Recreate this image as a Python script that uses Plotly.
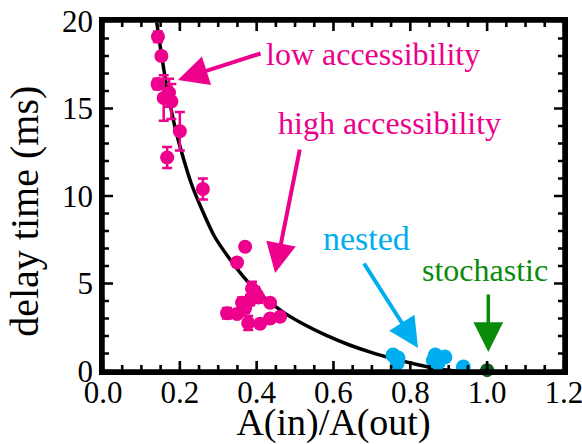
import plotly.graph_objects as go

# ---- data ----
low_x = [0.143, 0.152, 0.142, 0.158, 0.172, 0.178, 0.200, 0.167, 0.260]
low_y = [19.1, 18.0, 16.4, 15.6, 15.9, 15.4, 13.7, 12.2, 10.4]
low_err = [0.3, 0.2, 0.3, 1.3, 0.8, 1.0, 1.1, 0.6, 0.6]

high_x = [0.370, 0.349, 0.388, 0.396, 0.383, 0.404, 0.435, 0.323, 0.349, 0.370,
          0.378, 0.409, 0.435, 0.461, 0.362]
high_y = [7.1, 6.2, 4.7, 4.5, 4.06, 4.2, 3.9, 3.3, 3.26, 3.6,
          2.74, 2.7, 3.0, 3.1, 3.9]
high_err = [0.2, 0.2, 0.4, 0.3, 0.3, 0.3, 0.2, 0.3, 0.2, 0.3,
            0.4, 0.2, 0.2, 0.2, 0.3]

nested_x = [0.755, 0.768, 0.766, 0.865, 0.890, 0.872, 0.860, 0.938]
nested_y = [0.91, 0.74, 0.46, 0.91, 0.80, 0.46, 0.60, 0.23]

stoch_x = [1.0]
stoch_y = [0.05]

# fit curve, points
curve_x = [0.140, 0.150, 0.160, 0.175, 0.190, 0.210, 0.230, 0.260, 0.290, 0.330,
           0.375, 0.420, 0.470, 0.520, 0.580, 0.640, 0.700, 0.760, 0.820, 0.880, 0.920]
curve_y = [19.9, 18.4, 17.0, 15.2, 13.7, 12.1, 10.7, 9.1, 7.7, 6.4,
           5.15, 4.2, 3.35, 2.7, 2.05, 1.5, 1.05, 0.68, 0.36, 0.08, 0.0]

# axis ranges and tick positions
X_MAX = 1.2
Y_MAX = 20
x_major = [0.0, 0.2, 0.4, 0.6, 0.8, 1.0, 1.2]
x_minor = [round(i * 0.05, 2) for i in range(25) if i % 4 != 0]
y_major = [0, 5, 10, 15, 20]
y_minor = [i for i in range(1, 20) if i % 5 != 0]

PINK = "#EC008C"
CYAN = "#00AEEF"
GREEN = "#0A8A0A"
DKGREEN = "#0B5E1E"
FONT = "Liberation Serif"

# plot-area size in px (from the margins below), used to express tick sizes
ML, MR, MT, MB = 103, 18, 21, 73
PLOT_W = 582 - ML - MR
PLOT_H = 444 - MT - MB
XPX = X_MAX / PLOT_W   # data units per px on x
YPX = Y_MAX / PLOT_H   # data units per px on y

fig = go.Figure()

fig.add_trace(go.Scatter(x=curve_x, y=curve_y, mode="lines",
                         line=dict(color="black", width=3.5, shape="spline", smoothing=0.6),
                         hoverinfo="skip"))

fig.add_trace(go.Scatter(x=low_x, y=low_y, mode="markers",
                         marker=dict(color=PINK, size=14),
                         error_y=dict(type="data", array=low_err, color=PINK,
                                      thickness=2.5, width=5)))
fig.add_trace(go.Scatter(x=high_x, y=high_y, mode="markers",
                         marker=dict(color=PINK, size=14),
                         error_y=dict(type="data", array=high_err, color=PINK,
                                      thickness=2.5, width=5)))
fig.add_trace(go.Scatter(x=nested_x, y=nested_y, mode="markers",
                         marker=dict(color=CYAN, size=15)))
fig.add_trace(go.Scatter(x=stoch_x, y=stoch_y, mode="markers",
                         marker=dict(color=DKGREEN, size=14), cliponaxis=False))


# inside tick marks on all four sides, drawn as thin filled rectangles
def tick_polys(vals, length_px, vertical, half_w_px=1.3):
    xs, ys = [], []
    for v in vals:
        if vertical:   # bottom and top edges
            L = length_px * YPX
            w = half_w_px * XPX
            for y0, y1 in ((0, L), (Y_MAX, Y_MAX - L)):
                xs += [v - w, v + w, v + w, v - w, v - w, None]
                ys += [y0, y0, y1, y1, y0, None]
        else:          # left and right edges
            L = length_px * XPX
            w = half_w_px * YPX
            for x0, x1 in ((0, L), (X_MAX, X_MAX - L)):
                xs += [x0, x1, x1, x0, x0, None]
                ys += [v - w, v - w, v + w, v + w, v - w, None]
    return xs, ys


all_x, all_y = [], []
for vals, ln, vert in [(x_major, 10, True), (x_minor, 6, True),
                       (y_major, 10, False), (y_minor, 6, False)]:
    tx, ty = tick_polys(vals, ln, vert)
    all_x += tx
    all_y += ty
fig.add_trace(go.Scatter(x=all_x, y=all_y, mode="lines", fill="toself",
                         fillcolor="black", line=dict(width=0, color="black"),
                         hoverinfo="skip"))

# frame as four filled bars (paper coords, widths in px)
HB = 1.75
frame_bars = [
    dict(xanchor=0, x0=-HB, x1=HB, yanchor=0, y0=-HB, y1=PLOT_H + HB),        # left
    dict(xanchor=1, x0=-HB, x1=HB, yanchor=0, y0=-HB, y1=PLOT_H + HB),        # right
    dict(xanchor=0, x0=-HB, x1=PLOT_W + HB, yanchor=0, y0=-HB, y1=HB),        # bottom
    dict(xanchor=0, x0=-HB, x1=PLOT_W + HB, yanchor=1, y0=-HB, y1=HB),        # top
]
for b in frame_bars:
    fig.add_shape(type="rect", xref="paper", yref="paper",
                  xsizemode="pixel", ysizemode="pixel",
                  fillcolor="black", line=dict(width=0), layer="above", **b)

# text labels
texts = [
    ("low accessibility", 0.703, 18.1, PINK, 32),
    ("high accessibility", 0.745, 14.17, PINK, 32),
    ("nested", 0.685, 7.6, CYAN, 34),
    ("stochastic", 0.995, 5.77, GREEN, 32),
]
for t, x, y, c, s in texts:
    fig.add_annotation(text=t, x=x, y=y, xref="x", yref="y", showarrow=False,
                       font=dict(family=FONT, size=s, color=c),
                       xanchor="center", yanchor="middle")

# y axis title (as rotated text)
fig.add_annotation(text="delay time (ms)", xref="paper", yref="paper",
                   x=0, y=0.455, xshift=-78, showarrow=False, textangle=-90,
                   font=dict(family=FONT, size=40, color="black"),
                   xanchor="center", yanchor="middle")

# arrows (tip x,y ; tail ax,ay)
arrows = [
    (0.195, 16.63, 0.414, 18.17, PINK, 4, 1.5),
    (0.448, 5.6, 0.513, 12.74, PINK, 4, 1.5),
    (0.820, 1.31, 0.677, 6.23, CYAN, 4, 1.5),
    (1.003, 1.09, 1.003, 4.46, GREEN, 3.5, 1.7),
]
for x, y, ax, ay, c, w, s in arrows:
    fig.add_annotation(text="", x=x, y=y, ax=ax, ay=ay, xref="x", yref="y",
                       axref="x", ayref="y", showarrow=True, arrowhead=2,
                       arrowsize=s, arrowwidth=w, arrowcolor=c, standoff=0)

axis_common = dict(showline=True, linewidth=3.5, linecolor="black", mirror=True,
                   ticks="", showgrid=False, zeroline=False, automargin=False,
                   ticklabeloverflow="allow",
                   tickfont=dict(family=FONT, size=31, color="black"))

fig.update_xaxes(range=[0, X_MAX + 0.0001], tickvals=x_major, tickformat=".1f",
                 ticklabelstandoff=-9,
                 title=dict(text="A(in)/A(out)", font=dict(family=FONT, size=38, color="black"),
                            standoff=4),
                 **axis_common)
fig.update_yaxes(range=[0, Y_MAX], tickvals=y_major, ticksuffix=" ",
                 **axis_common)

fig.update_layout(template="none", width=582, height=444, showlegend=False,
                  margin=dict(l=ML, r=MR, t=MT, b=MB),
                  plot_bgcolor="white", paper_bgcolor="white",
                  font=dict(family=FONT))

fig.write_html("out.html")
